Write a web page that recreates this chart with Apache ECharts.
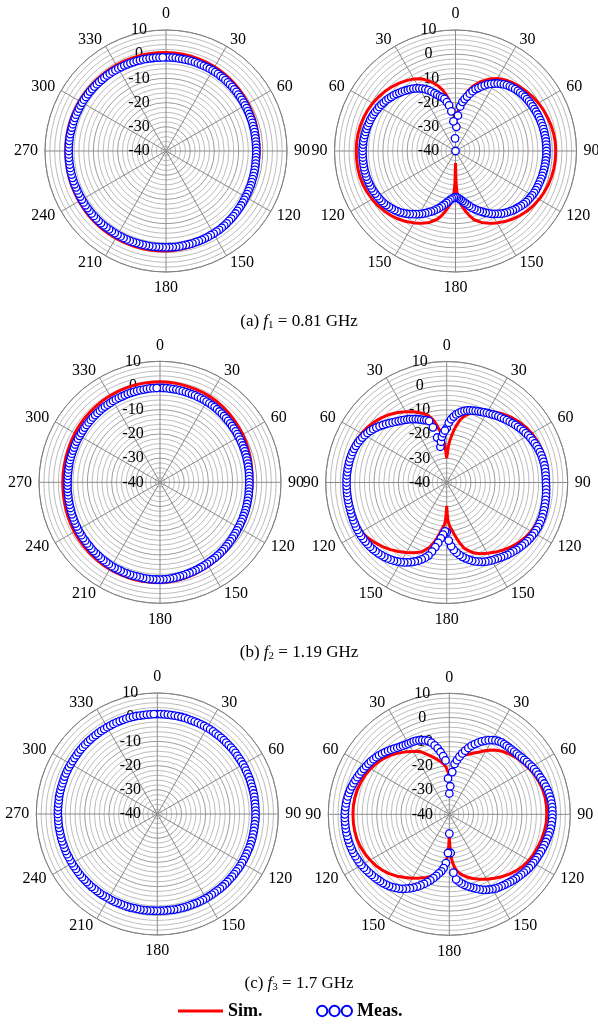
<!DOCTYPE html>
<html>
<head>
<meta charset="utf-8">
<script src="https://cdn.jsdelivr.net/npm/echarts@6/dist/echarts.min.js"></script>
<style>
html,body{margin:0;padding:0;background:#fff}
#chart{width:598px;height:1026px}
</style>
</head>
<body>
<div id="chart"></div>
<script>
// Radiation patterns (dB) at three frequencies; left column: omni plane, right column: figure-eight plane.
const FONT = "'Liberation Serif','Times New Roman',serif";

// Tick labels / captions
const captionTags = ['a', 'b', 'c'];
const freqIndex = ['1', '2', '3'];
const freqValue = ['0.81', '1.19', '1.7'];

// Measured samples: every 2 degrees from 0 to 358 (one row per 30 degrees)
const MEAS_STEP = 2;
const measA1 = [
  -1.3,-1.3,-1.3,-1.3,-1.4,-1.4,-1.4,-1.4,-1.4,-1.4,-1.5,-1.5,-1.5,-1.5,-1.5,
  -1.5,-1.6,-1.6,-1.7,-1.7,-1.8,-1.8,-1.9,-1.9,-2.0,-2.0,-2.1,-2.1,-2.2,-2.2,
  -2.3,-2.3,-2.4,-2.4,-2.5,-2.5,-2.5,-2.6,-2.6,-2.6,-2.7,-2.7,-2.7,-2.7,-2.7,
  -2.7,-2.7,-2.7,-2.7,-2.6,-2.6,-2.5,-2.5,-2.4,-2.4,-2.3,-2.2,-2.2,-2.1,-2.0,
  -2.0,-1.9,-1.8,-1.7,-1.6,-1.5,-1.4,-1.3,-1.2,-1.1,-1.0,-0.9,-0.8,-0.7,-0.7,
  -0.6,-0.6,-0.5,-0.5,-0.4,-0.4,-0.4,-0.3,-0.3,-0.3,-0.3,-0.2,-0.2,-0.2,-0.2,
  -0.2,-0.2,-0.2,-0.2,-0.1,-0.1,-0.1,-0.1,-0.1,-0.1,0.0,0.0,0.0,0.0,0.0,
  0.0,0.0,0.0,0.0,0.0,0.1,0.1,0.1,0.1,0.1,0.1,0.1,0.1,0.1,0.1,
  0.1,0.1,0.1,0.1,0.1,0.2,0.2,0.2,0.2,0.2,0.2,0.2,0.2,0.2,0.2,
  0.2,0.2,0.2,0.2,0.2,0.2,0.1,0.1,0.1,0.1,0.1,0.1,0.0,0.0,0.0,
  0.0,0.0,-0.1,-0.1,-0.1,-0.2,-0.2,-0.3,-0.3,-0.4,-0.4,-0.4,-0.5,-0.5,-0.6,
  -0.6,-0.7,-0.7,-0.8,-0.8,-0.9,-0.9,-1.0,-1.0,-1.1,-1.1,-1.2,-1.2,-1.3,-1.3
];
const measA2 = [
  -40,-30,-25.3,-21.5,-19.5,-18.2,-17,-15.6,-14.3,-13.1,-12.2,-11.2,-10.3,-9.3,-8.6,
  -7.8,-7.1,-6.5,-6.0,-5.5,-5.1,-4.8,-4.5,-4.2,-4.0,-3.8,-3.6,-3.5,-3.4,-3.3,
  -3.2,-3.1,-3.0,-2.9,-2.8,-2.7,-2.7,-2.6,-2.6,-2.5,-2.5,-2.4,-2.4,-2.4,-2.4,
  -2.4,-2.4,-2.4,-2.5,-2.5,-2.6,-2.6,-2.7,-2.7,-2.8,-2.9,-3.0,-3.0,-3.1,-3.2,
  -3.4,-3.6,-3.8,-4.0,-4.3,-4.7,-5.1,-5.5,-5.9,-6.4,-6.9,-7.4,-8.0,-8.7,-9.4,
  -10.0,-10.8,-11.6,-12.4,-13.2,-14.0,-14.8,-15.7,-16.6,-17.5,-18.3,-19.1,-19.8,-20.3,-20.7,
  -20.9,-20.7,-20.3,-19.8,-19.0,-18.2,-17.3,-16.4,-15.5,-14.6,-13.8,-13.0,-12.2,-11.4,-10.6,
  -9.9,-9.2,-8.5,-7.8,-7.1,-6.5,-5.9,-5.4,-4.9,-4.5,-4.1,-3.7,-3.4,-3.1,-2.9,
  -2.7,-2.5,-2.3,-2.1,-2.0,-1.9,-1.8,-1.7,-1.7,-1.6,-1.6,-1.6,-1.6,-1.6,-1.6,
  -1.6,-1.6,-1.7,-1.7,-1.8,-1.9,-2.0,-2.1,-2.2,-2.4,-2.5,-2.7,-2.9,-3.1,-3.4,
  -3.6,-3.9,-4.2,-4.5,-4.9,-5.3,-5.7,-6.1,-6.6,-7.0,-7.5,-8.0,-8.4,-8.9,-9.5,
  -10.1,-10.8,-11.6,-12.5,-13.5,-14.6,-15.6,-16.5,-17.2,-18.0,-19.5,-21.0,-23.5,-27.7,-34.8
];
const measB1 = [
  -1.0,-1.0,-1.0,-1.1,-1.1,-1.1,-1.2,-1.2,-1.2,-1.3,-1.3,-1.3,-1.4,-1.4,-1.4,
  -1.5,-1.5,-1.6,-1.6,-1.7,-1.8,-1.8,-1.9,-2.0,-2.1,-2.1,-2.2,-2.3,-2.3,-2.4,
  -2.5,-2.5,-2.6,-2.6,-2.7,-2.7,-2.8,-2.8,-2.9,-2.9,-3.0,-3.0,-3.0,-3.1,-3.1,
  -3.1,-3.1,-3.1,-3.1,-3.0,-3.0,-3.0,-2.9,-2.9,-2.8,-2.8,-2.8,-2.7,-2.7,-2.6,
  -2.6,-2.5,-2.4,-2.3,-2.2,-2.1,-2.0,-1.9,-1.8,-1.7,-1.6,-1.5,-1.4,-1.4,-1.3,
  -1.2,-1.1,-1.0,-0.9,-0.8,-0.7,-0.6,-0.5,-0.4,-0.3,-0.2,-0.1,0.0,0.1,0.1,
  0.2,0.2,0.2,0.2,0.2,0.2,0.1,0.1,0.1,0.1,0.1,0.1,0.0,0.0,0.0,
  0.0,-0.1,-0.2,-0.2,-0.3,-0.4,-0.5,-0.5,-0.6,-0.7,-0.7,-0.8,-0.8,-0.9,-0.9,
  -1.0,-1.1,-1.1,-1.2,-1.3,-1.3,-1.4,-1.5,-1.5,-1.6,-1.6,-1.7,-1.7,-1.7,-1.8,
  -1.8,-1.8,-1.8,-1.8,-1.8,-1.8,-1.7,-1.7,-1.7,-1.7,-1.7,-1.7,-1.6,-1.6,-1.6,
  -1.6,-1.6,-1.6,-1.5,-1.5,-1.5,-1.5,-1.4,-1.4,-1.4,-1.4,-1.3,-1.3,-1.3,-1.3,
  -1.2,-1.2,-1.2,-1.2,-1.2,-1.1,-1.1,-1.1,-1.1,-1.1,-1.1,-1.0,-1.0,-1.0,-1.0
];
const measB2 = [
  -17.5,-15.3,-13.8,-12.6,-11.6,-10.8,-10.1,-9.5,-9.0,-8.7,-8.4,-8.1,-7.8,-7.5,-7.2,
  -6.8,-6.5,-6.1,-5.7,-5.3,-5.0,-4.6,-4.2,-3.8,-3.4,-3.0,-2.6,-2.2,-1.8,-1.5,
  -1.1,-0.8,-0.5,-0.2,0.1,0.3,0.5,0.7,0.8,0.9,1.0,1.0,1.0,1.0,1.0,
  1.0,1.1,1.2,1.3,1.4,1.5,1.6,1.7,1.8,1.9,2.0,2.0,2.0,2.0,1.9,
  1.8,1.6,1.4,1.2,0.9,0.6,0.3,0.0,-0.4,-0.7,-1.0,-1.4,-1.8,-2.2,-2.5,
  -2.8,-3.2,-3.6,-4.1,-4.7,-5.3,-6.0,-6.8,-7.7,-8.6,-9.6,-10.7,-12.0,-13.6,-16.0,
  -19.5,-19.8,-18.4,-16.8,-14.8,-12.9,-10.8,-8.9,-7.7,-6.6,-5.6,-4.8,-4.0,-3.3,-2.6,
  -2.0,-1.5,-1.0,-0.6,-0.2,0.1,0.4,0.7,0.9,1.1,1.3,1.4,1.5,1.6,1.7,
  1.7,1.7,1.7,1.6,1.6,1.5,1.5,1.4,1.4,1.4,1.4,1.4,1.4,1.4,1.4,
  1.4,1.4,1.4,1.3,1.3,1.2,1.2,1.1,1.0,0.9,0.7,0.5,0.2,-0.1,-0.5,
  -0.9,-1.4,-1.9,-2.5,-3.1,-3.8,-4.5,-5.2,-5.9,-6.6,-7.2,-7.8,-8.3,-8.8,-9.3,
  -9.8,-10.3,-10.8,-11.4,-12.0,-12.6,-12.9,-13.6,-16.5,-21.0,-25.0,-23.0,-21.0,-19.6,-18.5
];
const measC1 = [
  1.3,1.3,1.3,1.3,1.3,1.3,1.3,1.3,1.3,1.2,1.2,1.2,1.2,1.2,1.2,
  1.2,1.2,1.2,1.1,1.1,1.1,1.1,1.0,1.0,1.0,1.0,1.0,0.9,0.9,0.9,
  0.9,0.9,0.8,0.8,0.8,0.8,0.7,0.7,0.7,0.7,0.7,0.6,0.6,0.6,0.6,
  0.6,0.6,0.6,0.5,0.5,0.5,0.5,0.5,0.5,0.5,0.5,0.4,0.4,0.4,0.4,
  0.4,0.4,0.4,0.3,0.3,0.3,0.3,0.3,0.3,0.3,0.3,0.2,0.2,0.2,0.2,
  0.2,0.2,0.2,0.2,0.1,0.1,0.1,0.1,0.1,0.1,0.1,0.0,0.0,0.0,0.0,
  0.0,0.0,0.0,0.1,0.1,0.1,0.1,0.1,0.2,0.2,0.2,0.2,0.2,0.3,0.3,
  0.3,0.3,0.4,0.4,0.4,0.4,0.5,0.5,0.5,0.5,0.6,0.6,0.6,0.6,0.7,
  0.7,0.7,0.7,0.8,0.8,0.8,0.8,0.9,0.9,0.9,0.9,1.0,1.0,1.0,1.0,
  1.1,1.1,1.1,1.1,1.1,1.2,1.2,1.2,1.2,1.2,1.2,1.3,1.3,1.3,1.3,
  1.3,1.3,1.3,1.3,1.4,1.4,1.4,1.4,1.4,1.4,1.4,1.4,1.4,1.4,1.4,
  1.4,1.4,1.4,1.4,1.4,1.4,1.4,1.4,1.4,1.4,1.3,1.3,1.3,1.3,1.3
];
const measC2 = [
  -31.4,-28.4,-22.5,-19.1,-17.4,-15.8,-14.3,-12.9,-11.5,-10.2,-9.1,-8.1,-7.0,-6.1,-5.3,
  -4.6,-4.0,-3.6,-3.3,-3.2,-3.1,-3.0,-2.9,-2.7,-2.5,-2.3,-2.0,-1.7,-1.3,-1.0,
  -0.6,-0.3,0.0,0.3,0.6,0.9,1.2,1.5,1.8,2.0,2.2,2.4,2.5,2.6,2.6,
  2.6,2.6,2.5,2.4,2.3,2.1,1.9,1.7,1.5,1.3,1.1,0.9,0.7,0.5,0.3,
  0.1,-0.1,-0.3,-0.6,-0.9,-1.2,-1.5,-1.8,-2.1,-2.4,-2.7,-3.0,-3.3,-3.6,-3.9,
  -4.3,-4.8,-5.3,-5.8,-6.5,-7.3,-8.0,-8.7,-9.4,-10.2,-11.0,-12.0,-13.0,-15.8,-24.0,
  -32.0,-24.0,-19.8,-17.6,-16.2,-15.2,-14.0,-12.8,-11.6,-10.5,-9.4,-8.3,-7.3,-6.3,-5.4,
  -4.5,-3.7,-3.0,-2.4,-1.8,-1.3,-0.9,-0.5,-0.2,0.1,0.4,0.7,1.0,1.3,1.6,
  1.9,2.1,2.3,2.5,2.7,2.8,2.9,3.0,3.1,3.1,3.2,3.2,3.2,3.2,3.2,
  3.2,3.1,3.0,2.9,2.8,2.6,2.4,2.2,1.9,1.6,1.3,1.0,0.7,0.4,0.0,
  -0.3,-0.6,-0.9,-1.3,-1.7,-2.1,-2.6,-3.1,-3.6,-4.1,-4.6,-5.1,-5.5,-5.8,-6.1,
  -6.3,-6.4,-6.5,-6.7,-7.0,-7.4,-7.9,-8.4,-9.5,-10.9,-12.3,-14.0,-15.8,-17.7,-25.2
];

// Simulated, omni plane: every 10 degrees, 0..360
const SIM_STEP_OMNI = 10;
const simA1 = [
  0.7,0.6,0.4,0.2,-0.1,-0.5,-0.8,-1.1,-1.4,-1.5,
  -1.5,-1.4,-1.2,-0.8,-0.4,0.1,0.6,1.0,1.3,
  1.4,1.5,1.6,1.6,1.6,1.5,1.5,1.4,1.4,
  1.4,1.4,1.3,1.2,1.1,1.0,0.9,0.8,0.7
];
const simB1 = [
  1.5,1.4,1.2,1.0,0.6,0.0,-0.5,-1.1,-1.6,-1.9,
  -2.0,-1.8,-1.5,-1.0,-0.5,0.0,0.6,1.1,1.4,
  1.5,1.5,1.5,1.3,1.1,0.9,0.6,0.3,0.2,
  0.2,0.3,0.6,0.9,1.1,1.3,1.4,1.5,1.5
];

// Simulated, figure-eight plane: denser sampling near the nulls
const simAnglesFig8 = [
  0,1,2,3,4,6,8,10,12,15,
  20,25,30,35,40,45,50,55,60,65,70,75,80,85,90,
  95,100,105,110,115,120,125,130,135,140,145,150,155,160,165,
  168,170,172,174,176,177,178,179,
  180,
  181,182,183,184,186,188,190,192,
  195,200,205,210,215,220,225,230,235,240,245,250,255,260,265,
  270,275,280,285,290,295,300,305,310,315,320,325,330,335,340,
  345,348,350,352,354,356,357,358,359,
  360
];
const simA2 = [
  -30,-28,-26,-24.5,-23,-20.5,-18.2,-16.2,-14.5,-12.3,
  -9.5,-7.2,-5.4,-4.2,-3.2,-2.4,-1.7,-1.0,-0.4,0.1,0.5,0.9,1.2,1.4,1.4,
  1.4,1.3,1.1,0.8,0.4,-0.1,-0.7,-1.4,-2.3,-3.3,-4.4,-5.7,-7.0,-8.6,-10.6,
  -12.8,-14.4,-16.0,-17.6,-19.5,-20.8,-23,-27,
  -35,
  -27,-23,-20.8,-19.5,-17.6,-16.0,-14.4,-12.8,
  -10.8,-8.6,-7.0,-5.7,-4.4,-3.3,-2.3,-1.5,-0.8,-0.2,0.3,0.7,0.9,1.0,1.0,
  1.0,1.0,0.9,0.7,0.4,0.0,-0.5,-1.1,-1.8,-2.6,-3.5,-4.5,-5.6,-7.1,-9.3,
  -12.1,-14.2,-15.9,-17.9,-20.3,-22.8,-24.3,-25.8,-27.8,
  -30
];
const simB2 = [
  -30,-28.5,-26.5,-24.5,-23,-20.5,-18,-15.8,-13.6,-11.5,
  -9.3,-7.6,-6.1,-4.6,-3.2,-2.0,-1.0,-0.1,0.6,1.1,1.5,1.7,1.8,1.7,1.6,
  1.5,1.4,1.3,1.1,0.8,0.3,-0.4,-1.3,-2.4,-3.6,-4.9,-6.2,-7.5,-9.2,-11.8,
  -14.6,-16.6,-18.6,-20.5,-21.8,-22.6,-24,-27,
  -30.4,
  -27,-24,-22.6,-21.8,-20.5,-18.6,-16.6,-14.6,
  -12.2,-9.4,-8.0,-6.6,-5.2,-3.8,-2.5,-1.3,-0.2,0.7,1.4,1.8,2.0,2.1,2.1,
  2.1,2.1,2.1,2.0,1.7,1.2,0.6,-0.1,-1.0,-2.1,-3.3,-4.7,-6.2,-7.7,-9.4,
  -11.5,-13.6,-15.8,-18,-20.5,-23,-24.5,-26.5,-28.5,
  -30
];
const simC2 = [
  -24,-23.5,-22.8,-22,-21.2,-19.3,-17.8,-16.5,-15.6,-14.6,
  -13.3,-11.7,-9.6,-7.6,-6.0,-4.8,-3.7,-2.9,-2.0,-1.2,-0.6,-0.1,0.2,0.3,0.3,
  0.2,-0.1,-0.5,-1.0,-1.4,-2.0,-2.8,-3.8,-5.0,-6.3,-7.7,-9.0,-10.4,-11.8,-13.3,
  -14.4,-15.2,-16.2,-17.6,-19.8,-21.5,-24,-27,
  -30.8,
  -27,-24.3,-22,-20.3,-18.2,-17,-16,-15,
  -13.7,-12.2,-11,-9.5,-8.1,-6.6,-5.2,-4.0,-3.0,-2.2,-1.5,-0.9,-0.5,-0.3,-0.2,
  -0.2,-0.2,-0.4,-0.7,-1.1,-1.7,-2.4,-3.3,-4.3,-5.6,-7.0,-8.5,-10,-11.3,-13.8,
  -15.8,-17,-17.7,-18.5,-19.3,-20.5,-21.3,-22.2,-23,
  -24
];

// Panel layout: polar centers (px) and whether the angle labels fold at 180
const R = 121;
const panels = [
  { center: [166, 151], fold: false, sim: simA1, simAng: null, meas: measA1 },
  { center: [455.5, 151], fold: true, sim: simA2, simAng: simAnglesFig8, meas: measA2 },
  { center: [160, 482.3], fold: false, sim: simB1, simAng: null, meas: measB1 },
  { center: [446.7, 482.5], fold: true, sim: simB2, simAng: simAnglesFig8, meas: measB2 },
  { center: [157.3, 814], fold: false, sim: null, simAng: null, meas: measC1 },
  { center: [449.3, 814.3], fold: true, sim: simC2, simAng: simAnglesFig8, meas: measC2 }
];

function pairs(values, angles, step) {
  return values.map((v, i) => [v, angles ? angles[i] : i * step]);
}

const series = [];
panels.forEach((p, i) => {
  if (p.sim) {
    series.push({
      type: 'line', name: 'Sim.', coordinateSystem: 'polar', polarIndex: i,
      data: pairs(p.sim, p.simAng, SIM_STEP_OMNI),
      symbol: 'none', smooth: p.simAng ? false : 0.5,
      lineStyle: { color: '#ff0000', width: 3 },
      itemStyle: { color: '#ff0000' },
      z: 3, animation: false
    });
  }
  series.push({
    type: 'scatter', name: 'Meas.', coordinateSystem: 'polar', polarIndex: i,
    data: pairs(p.meas, null, MEAS_STEP),
    symbol: 'circle', symbolSize: 7.5,
    itemStyle: { color: '#ffffff', borderColor: '#0000ff', borderWidth: 1.3, opacity: 1 },
    z: 4, animation: false
  });
});

function caption(k, top) {
  return {
    text: '(' + captionTags[k] + ') {i|f}{s|' + freqIndex[k] + '} = ' + freqValue[k] + ' GHz',
    left: 'center', top: top, padding: 0,
    textStyle: {
      fontFamily: FONT, fontSize: 17, fontWeight: 'normal', color: '#000',
      rich: {
        i: { fontFamily: FONT, fontSize: 17, fontStyle: 'italic', color: '#000' },
        s: { fontFamily: FONT, fontSize: 11, color: '#000', padding: [7, 0, 0, 0] }
      }
    }
  };
}

// Angle labels: top/bottom ones sit outside the ring, side ones are centred on their spoke
function angleLabel(v, fold) {
  if (v >= 360) return '';
  const t = String(fold && v > 180 ? 360 - v : v);
  return (v === 0 || v === 180) ? '{n|' + t + '}' : '{d|' + t + '}';
}

const option = {
  backgroundColor: '#ffffff',
  animation: false,
  title: [caption(0, 313), caption(1, 644), caption(2, 975)],
  legend: [
    {
      data: [{ name: 'Sim.', icon: 'rect' }],
      left: 178, top: 1002, padding: 0, itemWidth: 45, itemHeight: 3, selectedMode: false,
      textStyle: { fontFamily: FONT, fontSize: 18, fontWeight: 'bold', color: '#000' }
    },
    {
      data: [{
        name: 'Meas.',
        icon: 'path://M0,5A5,5 0 1 1 10,5A5,5 0 1 1 0,5ZM12,5A5,5 0 1 1 22,5A5,5 0 1 1 12,5ZM24,5A5,5 0 1 1 34,5A5,5 0 1 1 24,5Z',
        itemStyle: { color: '#ffffff', borderColor: '#0000ff', borderWidth: 2 }
      }],
      left: 316, top: 1002, padding: 0, itemWidth: 35, itemHeight: 11, selectedMode: false,
      textStyle: { fontFamily: FONT, fontSize: 18, fontWeight: 'bold', color: '#000' }
    }
  ],
  polar: panels.map(p => ({ center: p.center, radius: [0, R] })),
  angleAxis: panels.map((p, i) => ({
    polarIndex: i, type: 'value', min: 0, max: 360, interval: 30,
    startAngle: 90, clockwise: true,
    axisLine: { show: true, lineStyle: { color: '#808080', width: 1 } },
    axisTick: { show: false },
    splitLine: { show: true, lineStyle: { color: '#8a8a8a', width: 1 } },
    axisLabel: {
      margin: 7, fontFamily: FONT, fontSize: 16, color: '#000',
      formatter: v => angleLabel(v, p.fold),
      rich: {
        n: { fontFamily: FONT, fontSize: 16, color: '#000', lineHeight: 18 },
        d: { fontFamily: FONT, fontSize: 16, color: '#000', lineHeight: 1 }
      }
    }
  })),
  radiusAxis: panels.map((p, i) => ({
    polarIndex: i, type: 'value', min: -40, max: 10, interval: 10,
    axisLine: { show: false }, axisTick: { show: false },
    splitLine: { show: true, lineStyle: { color: '#9c9c9c', width: 1 } },
    minorTick: { show: false, splitNumber: 5 },
    minorSplitLine: { show: true, lineStyle: { color: '#bcbcbc', width: 1 } },
    axisLabel: { margin: 27, align: 'center', fontFamily: FONT, fontSize: 16, color: '#000' }
  })),
  series: series
};

const chart = echarts.init(document.getElementById('chart'), null, { renderer: 'canvas' });
chart.setOption(option);
</script>
</body>
</html>
